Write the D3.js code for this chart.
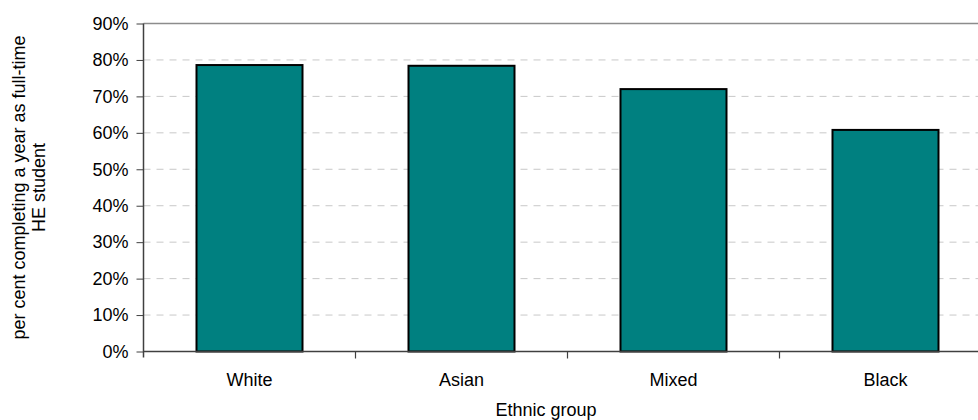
<!DOCTYPE html>
<html>
<head>
<meta charset="utf-8">
<script src="https://cdn.jsdelivr.net/npm/d3@7"></script>
<style>
html, body { margin: 0; padding: 0; background: #fff; }
svg { display: block; font-family: "Liberation Sans", Arial, sans-serif; }
</style>
</head>
<body>
<svg id="chart" width="978" height="420"></svg>
<script>
const categories = ["White", "Asian", "Mixed", "Black"];
const values = [0.786, 0.784, 0.720, 0.608];
const yTicks = [0, 0.1, 0.2, 0.3, 0.4, 0.5, 0.6, 0.7, 0.8, 0.9];
const xTitle = "Ethnic group";
const yTitleLines = ["per cent completing a year as full-time", "HE student"];

(function () {
const svg = d3.select("#chart");
const pL = 143.5, pR = 991.5, pT = 23.5, pB = 351.5;
const fs = 18;

const x = d3.scaleBand().domain(categories).range([pL, pR]).paddingInner(0.5).paddingOuter(0.25);
const y = d3.scaleLinear().domain([0, 0.9]).range([pB, pT]);

// gridlines
svg.append("g").selectAll("line").data(yTicks.filter(t => t > 0 && t < 0.9)).join("line")
  .attr("x1", pL).attr("x2", 978).attr("y1", d => y(d)).attr("y2", d => y(d))
  .attr("stroke", "#c8c8c8").attr("stroke-width", 1).attr("stroke-dasharray", "7,6");
// top border
svg.append("line").attr("x1", pL).attr("x2", 978).attr("y1", y(0.9)).attr("y2", y(0.9))
  .attr("stroke", "#8c8c8c").attr("stroke-width", 1.5);

// bars
svg.append("g").selectAll("rect").data(categories).join("rect")
  .attr("x", d => x(d)).attr("width", x.bandwidth())
  .attr("y", (d, i) => y(values[i])).attr("height", (d, i) => y(0) - y(values[i]))
  .attr("fill", "#008080").attr("stroke", "#000").attr("stroke-width", 2);

// y axis
const yAxis = d3.axisLeft(y).tickValues(yTicks).tickFormat(d3.format(".0%")).tickSize(7).tickPadding(8);
const gy = svg.append("g").attr("transform", `translate(${pL},0)`).call(yAxis);
gy.select(".domain").attr("stroke", "#404040").attr("stroke-width", 1.5).attr("d", `M0,${pT}V${pB + 6}`);
gy.selectAll(".tick line").attr("stroke", "#404040");
gy.selectAll(".tick text").attr("font-size", fs).attr("fill", "#000").attr("font-family", "Liberation Sans, Arial, sans-serif");

// x axis
const xAxis = d3.axisBottom(x).tickSize(0).tickPadding(22);
const gx = svg.append("g").attr("transform", `translate(0,${pB})`).call(xAxis);
gx.select(".domain").attr("stroke", "#404040").attr("stroke-width", 1.5).attr("d", `M${pL},0H978`);
gx.selectAll(".tick text").attr("font-size", fs).attr("fill", "#000").attr("font-family", "Liberation Sans, Arial, sans-serif");
// boundary ticks between categories
const gap = (x.step() - x.bandwidth()) / 2;
svg.append("g").selectAll("line").data(categories.slice(1)).join("line")
  .attr("x1", d => x(d) - gap).attr("x2", d => x(d) - gap).attr("y1", pB).attr("y2", pB + 7)
  .attr("stroke", "#404040").attr("stroke-width", 1.2);

// titles
svg.append("text").attr("x", 546).attr("y", 410).attr("text-anchor", "middle")
  .attr("dominant-baseline", "central").attr("font-size", fs).text(xTitle);
const yt = svg.append("text").attr("transform", `translate(19,${(pT + pB) / 2}) rotate(-90)`)
  .attr("text-anchor", "middle").attr("font-size", fs);
yTitleLines.forEach((t, i) => yt.append("tspan").attr("x", 0).attr("dy", i === 0 ? "0.35em" : "1.1em").text(t));
})();
</script>
</body>
</html>
